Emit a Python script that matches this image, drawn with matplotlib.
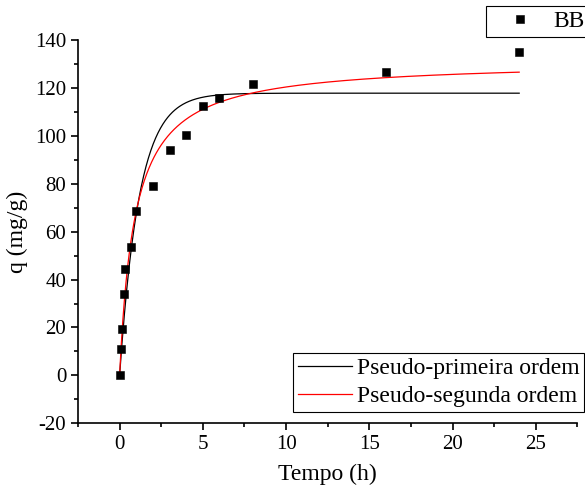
import numpy as np
import matplotlib
matplotlib.use('Agg')
import matplotlib.pyplot as plt

plt.rcParams['font.family'] = 'Liberation Serif'
plt.rcParams['axes.unicode_minus'] = False

tempo = [0, 0.083, 0.167, 0.25, 0.33, 0.67, 1, 2, 3, 4, 5, 6, 8, 16, 24]
q = [0, 11.1, 19.5, 33.9, 44.5, 53.5, 68.8, 79.0, 94.0, 100.2, 112.6, 115.6, 121.6, 126.5, 134.8]

# fitted parameters (estimated from the drawn curves)
qe1, k1 = 117.8, 0.85      # pseudo-primeira ordem
qe2, k2 = 131.4, 0.00832   # pseudo-segunda ordem

t_fit = np.linspace(0, 24, 500)
q_pfo = qe1 * (1 - np.exp(-k1 * t_fit))
q_pso = qe2**2 * k2 * t_fit / (1 + qe2 * k2 * t_fit)

fig = plt.figure(figsize=(5.85, 4.95), dpi=100)
ax = fig.add_axes([0.1333, 0.1448, 0.8538, 0.7744])

pts, = ax.plot(tempo, q, 's', color='black', markersize=5.6, markeredgewidth=0.4,
               label='BB', zorder=3)
l1, = ax.plot(t_fit, q_pfo, color='black', linewidth=0.9, label='Pseudo-primeira ordem')
l2, = ax.plot(t_fit, q_pso, color='red', linewidth=0.9, label='Pseudo-segunda ordem')

ax.set_xlim(-2.5, 27.5)
ax.set_ylim(-20, 140)
ax.set_xticks([0, 5, 10, 15, 20, 25])
ax.set_xticks(np.arange(-2.5, 27.6, 2.5), minor=True)
ax.set_yticks(range(-20, 141, 20))
ax.set_yticks(range(-20, 141, 10), minor=True)

ax.spines['top'].set_visible(False)
ax.spines['right'].set_visible(False)
for s in ['left', 'bottom']:
    ax.spines[s].set_linewidth(1.2)
ax.tick_params(which='major', direction='out', length=5, width=1.2, labelsize=15, colors='black')
ax.tick_params(which='minor', direction='out', length=3, width=1.2)

ax.set_xlabel('Tempo (h)', fontsize=17, labelpad=7)
ax.set_ylabel('q (mg/g)', fontsize=17, labelpad=5)

leg1 = ax.legend(handles=[pts], loc='upper left', bbox_to_anchor=(486 / 585, 1 - 6 / 495),
                 bbox_transform=fig.transFigure, fontsize=17, fancybox=False,
                 edgecolor='black', framealpha=1, borderpad=0.2, handlelength=2.5,
                 handletextpad=0.15, borderaxespad=0)
leg1.get_frame().set_linewidth(0.8)
ax.add_artist(leg1)

leg2 = ax.legend(handles=[l1, l2], loc='upper left', bbox_to_anchor=(293 / 585, 1 - 353 / 495),
                 bbox_transform=fig.transFigure, fontsize=17, fancybox=False,
                 edgecolor='black', framealpha=1, borderpad=0.2, handlelength=2.3,
                 handletextpad=0.2, labelspacing=0.27, borderaxespad=0)
leg2.get_frame().set_linewidth(0.8)

fig.savefig('out.png', dpi=100)
